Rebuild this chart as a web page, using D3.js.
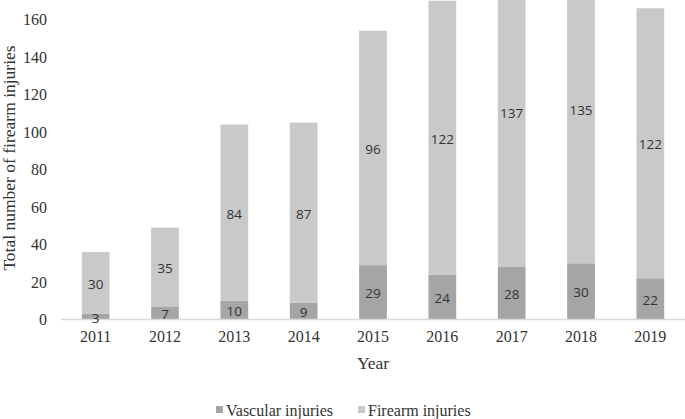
<!DOCTYPE html>
<html>
<head>
<meta charset="utf-8">
<script src="https://cdn.jsdelivr.net/npm/d3@7"></script>
<style>
  body { margin: 0; background: #fff; }
</style>
</head>
<body>
<div id="chart"></div>
<script>
'use strict'

// Data
const years = ['2011', '2012', '2013', '2014', '2015', '2016', '2017', '2018', '2019']
const vascular = [3, 7, 10, 9, 29, 24, 28, 30, 22]
const firearm = [30, 35, 84, 87, 96, 122, 137, 135, 122]
// height of the light segment as drawn (it sits on top of the vascular one)
const firearmDrawn = [33, 42, 94, 96, 125, 146, 165, 165, 144]
const yTicks = [0, 20, 40, 60, 80, 100, 120, 140, 160]

const width = 685,
  height = 419,
  plotLeft = 61,
  plotRight = 685,
  plotTop = 0,
  plotBottom = 319.5

const colDark = '#a5a5a5',
  colLight = '#c9c9ca'

const svg = d3.select('#chart')
  .append('svg')
  .attr('width', width)
  .attr('height', height)

const x = d3.scaleBand()
  .domain(years)
  .range([plotLeft, plotRight])
  .paddingInner(0.6)
  .paddingOuter(0.3)

const y = d3.scaleLinear()
  .domain([0, 160])
  .range([plotBottom, plotBottom - 160 * 1.875])

const rows = years.map((yr, i) => ({ year: yr, vascular: vascular[i], firearm: firearmDrawn[i] }))
const stacked = d3.stack().keys(['vascular', 'firearm'])(rows)

svg.append('clipPath').attr('id', 'plot')
  .append('rect')
  .attr('x', 0).attr('y', plotTop)
  .attr('width', width).attr('height', plotBottom - plotTop)

// bars
const bars = svg.append('g').attr('clip-path', 'url(#plot)')
bars.selectAll('g')
  .data(stacked)
  .enter()
  .append('g')
  .attr('fill', (d) => d.key === 'vascular' ? colDark : colLight)
  .selectAll('rect')
  .data((d) => d)
  .enter()
  .append('rect')
  .attr('x', (d) => x(d.data.year))
  .attr('width', x.bandwidth())
  .attr('y', (d) => y(d[1]))
  .attr('height', (d) => y(d[0]) - y(d[1]))

// x axis line
svg.append('line')
  .attr('x1', plotLeft).attr('x2', plotRight)
  .attr('y1', plotBottom).attr('y2', plotBottom)
  .attr('stroke', '#d9d9d9')
  .attr('stroke-width', 1.5)

// value labels
const lab = svg.append('g')
  .attr('font-family', '"Open Sans", sans-serif')
  .attr('font-size', 13.5)
  .attr('fill', '#333')
  .attr('text-anchor', 'middle')
  .attr('dominant-baseline', 'central')

lab.selectAll('.lv')
  .data(stacked[0])
  .enter()
  .append('text')
  .attr('x', (d) => x(d.data.year) + x.bandwidth() / 2)
  .attr('y', (d) => (y(d[0]) + y(d[1])) / 2 + 1)
  .text((d, i) => vascular[i])

lab.selectAll('.lf')
  .data(stacked[1])
  .enter()
  .append('text')
  .attr('x', (d) => x(d.data.year) + x.bandwidth() / 2)
  .attr('y', (d) => (y(d[0]) + y(d[1])) / 2 + 1)
  .text((d, i) => firearm[i])

// y axis (labels only)
const yAxis = svg.append('g')
  .attr('transform', 'translate(' + (plotLeft - 14) + ',0)')
  .call(d3.axisLeft(y).tickValues(yTicks).tickSize(0).tickPadding(0))
yAxis.select('.domain').remove()
yAxis.selectAll('text')
  .attr('font-family', '"Liberation Serif", "Times New Roman", serif')
  .attr('font-size', 16)
  .attr('fill', '#333')

// x axis labels
const xAxis = svg.append('g')
  .attr('transform', 'translate(0,' + plotBottom + ')')
  .call(d3.axisBottom(x).tickSize(0).tickPadding(11))
xAxis.select('.domain').remove()
xAxis.selectAll('text')
  .attr('font-family', '"Liberation Serif", "Times New Roman", serif')
  .attr('font-size', 16)
  .attr('fill', '#333')

// axis titles
svg.append('text')
  .attr('x', (plotLeft + plotRight) / 2)
  .attr('y', 369)
  .attr('text-anchor', 'middle')
  .attr('font-family', '"Liberation Serif", "Times New Roman", serif')
  .attr('font-size', 17.5)
  .attr('fill', '#333')
  .text('Year')

svg.append('text')
  .attr('transform', 'translate(15,158) rotate(-90)')
  .attr('text-anchor', 'middle')
  .attr('font-family', '"Liberation Serif", "Times New Roman", serif')
  .attr('font-size', 17.5)
  .attr('fill', '#333')
  .text('Total number of firearm injuries')

// legend
const legend = [
  { name: 'Vascular injuries', color: colDark, x: 216 },
  { name: 'Firearm injuries', color: colLight, x: 358 }
]
const lg = svg.append('g')
  .selectAll('g')
  .data(legend)
  .enter()
  .append('g')
  .attr('transform', (d) => 'translate(' + d.x + ',410)')
lg.append('rect')
  .attr('x', 0).attr('y', -4)
  .attr('width', 7).attr('height', 7)
  .attr('fill', (d) => d.color)
lg.append('text')
  .attr('x', 10)
  .attr('y', 0)
  .attr('dominant-baseline', 'central')
  .attr('font-family', '"Liberation Serif", "Times New Roman", serif')
  .attr('font-size', 16)
  .attr('fill', '#333')
  .text((d) => d.name)
</script>
</body>
</html>
